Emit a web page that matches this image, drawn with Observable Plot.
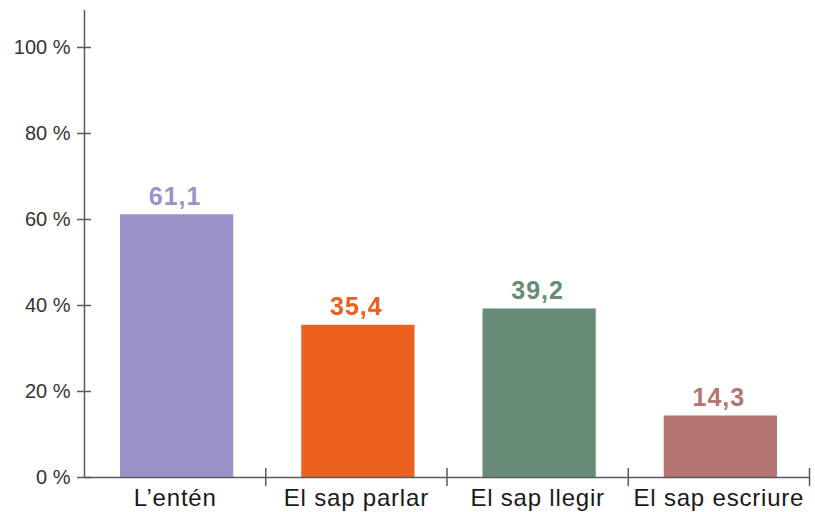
<!DOCTYPE html>
<html>
<head>
<meta charset="utf-8">
<script src="https://cdn.jsdelivr.net/npm/d3@7"></script>
<script src="https://cdn.jsdelivr.net/npm/@observablehq/plot@0.6"></script>
<style>
  html, body { margin: 0; padding: 0; background: #fff; }
  #chart svg { overflow: visible; }
  #chart g[aria-label="x-axis tick label"] text { letter-spacing: 0.8px; }
  #chart g[aria-label="text"] text { letter-spacing: 1px; }
</style>
</head>
<body>
<div id="chart"></div>
<script>
const categories = ["L\u2019entén", "El sap parlar", "El sap llegir", "El sap escriure"];
const values = [61.1, 35.4, 39.2, 14.3];
const colors = ["#9b93c8", "#ec6020", "#688b78", "#b47572"];
const yTicks = [0, 20, 40, 60, 80, 100];

const data = categories.map((c, i) => ({i, category: c, value: values[i], color: colors[i]}));
const fmt = d3.formatLocale({decimal: ",", thousands: ".", grouping: [3], currency: ["", "€"]}).format(".1f");

const axisColor = "#5a5a5a";
const font = "'Liberation Sans', Arial, Helvetica, sans-serif";

const chart = Plot.plot({
  width: 815,
  height: 512,
  marginLeft: 84,
  marginRight: 6,
  marginTop: 10,
  marginBottom: 35,
  style: {fontFamily: font, background: "transparent"},
  x: {domain: [0, categories.length], axis: null},
  y: {domain: [0, 108.6], axis: null},
  marks: [
    Plot.rectY(data, {x1: d => d.i, x2: d => d.i + 1, y: "value", fill: "color", insetLeft: 36, insetRight: 32}),
    Plot.ruleX([0], {stroke: axisColor, strokeWidth: 1.5}),
    Plot.ruleY([0], {stroke: axisColor, strokeWidth: 1.5}),
    Plot.axisY({ticks: yTicks, tickSize: 7, tickPadding: 7, tickFormat: d => d + " %", fontSize: 20, color: "#333", stroke: axisColor, strokeWidth: 1.5, label: null}),
    Plot.axisY({ticks: yTicks, tickSize: -7, tickFormat: () => "", stroke: axisColor, strokeWidth: 1.5, label: null}),
    Plot.axisX({ticks: [1, 2, 3, 4], tickSize: 9, tickFormat: () => "", stroke: axisColor, strokeWidth: 1.5, label: null}),
    Plot.axisX({ticks: [1, 2, 3, 4], tickSize: -9, tickFormat: () => "", stroke: axisColor, strokeWidth: 1.5, label: null}),
    Plot.axisX({ticks: categories.map((_, i) => i + 0.5), tickSize: 0, tickPadding: 11, tickFormat: d => categories[Math.floor(d)], fontSize: 24, color: "#1a1a1a", label: null}),
    Plot.text(data, {x: d => d.i + 0.5, y: "value", text: d => fmt(d.value), fill: "color", dy: -10, lineAnchor: "bottom", fontSize: 25, fontWeight: "bold"})
  ]
});
document.getElementById("chart").appendChild(chart);
</script>
</body>
</html>
